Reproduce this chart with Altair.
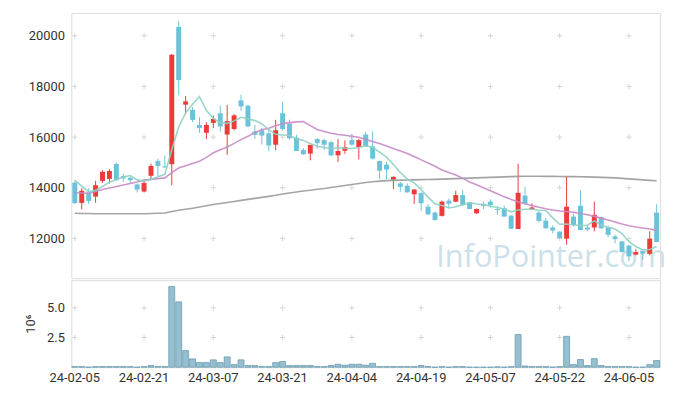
import altair as alt
import pandas as pd

# ---- data ----
dates = ["24-02-05","24-02-06","24-02-07","24-02-08","24-02-13","24-02-14","24-02-15","24-02-16","24-02-19","24-02-20",
         "24-02-21","24-02-22","24-02-23","24-02-26","24-02-27","24-02-28","24-02-29","24-03-04","24-03-05","24-03-06",
         "24-03-07","24-03-08","24-03-11","24-03-12","24-03-13","24-03-14","24-03-15","24-03-18","24-03-19","24-03-20",
         "24-03-21","24-03-22","24-03-25","24-03-26","24-03-27","24-03-28","24-03-29","24-04-01","24-04-02","24-04-03",
         "24-04-04","24-04-05","24-04-08","24-04-09","24-04-11","24-04-12","24-04-15","24-04-16","24-04-17","24-04-18",
         "24-04-19","24-04-22","24-04-23","24-04-24","24-04-25","24-04-26","24-04-29","24-04-30","24-05-02","24-05-03",
         "24-05-07","24-05-08","24-05-09","24-05-10","24-05-13","24-05-14","24-05-16","24-05-17","24-05-20","24-05-21",
         "24-05-22","24-05-23","24-05-24","24-05-27","24-05-28","24-05-29","24-05-30","24-05-31","24-06-03","24-06-04",
         "24-06-05","24-06-07","24-06-10","24-06-11","24-06-12"]

opens = [14200,13400,13810,13650,14270,14350,14940,14460,14390,14130,
         13850,14470,15060,14840,14930,20350,17280,17080,16480,16170,
         16560,16940,16100,16320,17450,17240,16220,16270,16150,15700,
         16940,16530,15980,15490,15350,15920,15880,15800,15280,15460,
         15880,15610,16100,15630,15060,14910,14320,14170,14080,13740,
         13800,13250,13020,12890,13490,13450,13710,13420,12990,13360,
         13450,13160,13190,12900,12370,13690,13150,13020,12700,12430,
         12270,11990,12860,13290,12430,12430,12840,12430,12080,11880,
         11720,11360,11490,11390,13020]
highs = [14260,13980,13980,14270,14690,14730,15000,14560,14430,14170,
         14290,14950,15150,15280,19280,20580,17620,17180,16780,16590,
         16850,17240,17270,16910,17670,17270,16480,16360,16320,16680,
         17400,16690,16090,15570,15700,15960,15930,15850,15930,15870,
         16130,15930,16220,16220,15060,15020,14450,14230,14170,13950,
         13800,13350,13060,13490,13580,13880,13910,13440,13180,13450,
         13540,13270,13290,12920,14950,14040,13380,13080,12800,12510,
         12270,14460,12980,13910,12510,13450,12860,12510,12150,11910,
         11750,11570,11490,12280,13350]
lows = [13370,13150,13360,13410,14190,14170,14270,14230,14170,13810,
        13810,14300,14470,14790,14100,17660,16910,16590,16160,15920,
        16360,16220,15300,16260,17040,16400,15930,15710,15450,15480,
        16260,15900,15450,15300,15080,15540,15500,15250,15020,15340,
        15670,15120,15620,15120,14340,14340,13950,13840,13800,13360,
        13100,12920,12690,12860,13190,13440,13280,13150,12970,13160,
        13210,12930,12860,12370,12370,13320,13150,12630,12380,12200,
        11990,11750,12470,12320,12280,12280,12380,12040,11810,11450,
        11100,11330,11160,11330,11850]
closes = [13390,13880,13480,14100,14630,14660,14300,14370,14300,13930,
          14190,14860,14860,14800,19250,18250,17410,16680,16360,16480,
          16720,16420,16630,16860,17210,16420,16090,16060,15670,16270,
          16320,15950,15450,15320,15690,15760,15700,15280,15450,15600,
          15700,15880,15630,15150,14670,14720,14430,14040,13820,13930,
          13390,12950,12730,13450,13370,13710,13320,13160,13160,13280,
          13320,13120,12860,12380,13800,13380,13220,12690,12400,12310,
          12010,13250,12530,12330,12350,12930,12400,12140,11970,11460,
          11290,11460,11400,11990,11860]
volumes = [50000,50000,0,50000,50000,50000,50000,50000,50000,0,
           50000,140000,50000,50000,6800000,5500000,1400000,700000,390000,390000,
           620000,390000,870000,220000,620000,140000,140000,50000,50000,390000,
           480000,140000,140000,140000,140000,50000,50000,140000,250000,170000,
           250000,250000,170000,330000,50000,50000,50000,50000,50000,50000,
           140000,50000,0,50000,0,50000,50000,0,0,0,
           0,30000,0,50000,2750000,100000,50000,50000,50000,0,
           50000,2600000,220000,650000,140000,720000,140000,50000,50000,50000,
           50000,0,0,220000,560000]
ma5 = [14300,14060,13840,13900,14050,14220,14330,14420,14480,14310,
       14260,14340,14430,14530,15500,16400,16950,17300,17600,17050,
       16740,16560,16540,16640,16780,16720,16650,16530,16290,16110,
       16080,16060,15940,15870,15750,15640,15590,15550,15580,15560,
       15550,15590,15660,15600,15410,15210,14920,14600,14340,14190,
       13920,13630,13370,13300,13200,13250,13330,13410,13360,13340,
       13270,13220,13160,13050,13120,13150,13150,13110,13100,12810,
       12560,12570,12530,12510,12520,12690,12520,12440,12370,12190,
       11870,11680,11540,11560,11680]
ma20 = [13800,13790,13780,13850,13930,13990,14050,14110,14170,14230,
        14300,14330,14360,14390,14600,14780,14870,14960,15050,15200,
        15380,15500,15610,15750,15900,16030,16180,16290,16350,16450,
        16530,16570,16600,16615,16450,16300,16220,16150,16100,16070,
        16030,15990,15900,15830,15750,15650,15550,15450,15350,15230,
        15100,14980,14850,14700,14600,14500,14380,14230,14120,14000,
        13880,13760,13640,13540,13450,13370,13300,13230,13170,13120,
        13080,13060,13030,12980,12930,12870,12800,12730,12650,12570,
        12500,12450,12410,12370,12320]
ma60 = [12990,12985,12980,12975,12975,12970,12970,12970,12970,12970,
        12975,12980,12990,13000,13060,13110,13150,13190,13240,13290,
        13340,13380,13420,13460,13500,13540,13580,13620,13660,13700,
        13750,13790,13830,13870,13900,13940,13970,14010,14050,14090,
        14130,14170,14210,14240,14260,14280,14290,14300,14305,14310,
        14320,14325,14330,14340,14350,14360,14370,14380,14390,14400,
        14410,14420,14430,14440,14450,14455,14455,14455,14450,14450,
        14445,14440,14440,14435,14430,14420,14410,14400,14390,14370,
        14350,14330,14310,14290,14275]

label_dates = ["24-02-05","24-02-21","24-03-07","24-03-21","24-04-04","24-04-19","24-05-07","24-05-22","24-06-05"]
price_ticks = [12000, 14000, 16000, 18000, 20000]
vol_ticks = [2500000, 5000000]
watermark = ["InfoPointer.com"]

RED = "#ef3a3a"
BLUE = "#6cc3d9"
FONT = "Roboto"

df = pd.DataFrame({"date": dates, "open": opens, "high": highs, "low": lows, "close": closes,
                   "volume": volumes, "ma5": ma5, "ma20": ma20, "ma60": ma60})

PW, PH, VH = 595, 268, 88

xscale = alt.Scale(type="band", domain=dates, paddingInner=0, paddingOuter=0)
yscale = alt.Scale(domain=[10430, 20900], nice=False, zero=False)
vscale = alt.Scale(domain=[0, 7330000], nice=False)
color_cond = alt.condition("datum.close >= datum.open", alt.value(RED), alt.value(BLUE))

price_axis = alt.Axis(values=price_ticks, format="d", grid=False, ticks=False, domain=False,
                      labelPadding=7, labelFontSize=13, labelColor="#333", labelFont=FONT)
x_axis = alt.Axis(values=label_dates, labelAngle=0, ticks=False, domain=False, grid=False,
                  labelPadding=4, labelFontSize=13, labelColor="#333", labelFont=FONT)
vol_axis = alt.Axis(values=vol_ticks, labelExpr="format(datum.value/1000000, '.1f')",
                    grid=False, ticks=False, domain=False, labelPadding=7,
                    labelFontSize=13, labelColor="#333", labelFont=FONT,
                    titleFont=FONT, titleFontSize=13, titleColor="#333",
                    titleFontWeight="normal", titlePadding=9)

base = alt.Chart(df)
xp = alt.X("date:N", scale=xscale, axis=None)

cross_shape = "M-1,0L1,0M0,-1L0,1"
pc = pd.DataFrame([(d, v) for d in label_dates for v in price_ticks], columns=["date", "v"])
crosses_price = alt.Chart(pc).mark_point(shape=cross_shape, size=28, filled=False,
                                         color="#d6d6d6", strokeWidth=1, opacity=1).encode(
    x=xp, y=alt.Y("v:Q", scale=yscale, title=None, axis=price_axis),
)

wm = alt.Chart(pd.DataFrame({"t": watermark})).mark_text(
    font="Open Sans", fontSize=31, color="#cddfe8", align="right", baseline="alphabetic"
).encode(text="t:N", x=alt.value(601), y=alt.value(257))

wicks = base.mark_rule(strokeWidth=1).encode(
    x=xp, y=alt.Y("low:Q", scale=yscale, title=None, axis=price_axis),
    y2="high:Q", color=color_cond,
)
bodies = base.mark_bar(size=5).encode(
    x=xp, y=alt.Y("open:Q", scale=yscale, title=None, axis=price_axis),
    y2="close:Q", color=color_cond,
)

def ma_line(field, col, w=1.6, op=0.9):
    return base.mark_line(strokeWidth=w, color=col, opacity=op).encode(
        x=xp, y=alt.Y(f"{field}:Q", scale=yscale, title=None, axis=price_axis),
    )

price = alt.layer(
    crosses_price, wm, wicks, bodies,
    ma_line("ma60", "#9a9a9a"), ma_line("ma20", "#c98ac6"), ma_line("ma5", "#8fd0c2"),
).properties(width=PW, height=PH)

xv = alt.X("date:N", scale=xscale, title=None, axis=x_axis)
vc = pd.DataFrame([(d, v) for d in label_dates for v in vol_ticks], columns=["date", "v"])
crosses_vol = alt.Chart(vc).mark_point(shape=cross_shape, size=28, filled=False,
                                       color="#d6d6d6", strokeWidth=1, opacity=1).encode(
    x=xv, y=alt.Y("v:Q", scale=vscale, title="10⁶", axis=vol_axis),
)
vbars = base.mark_bar(size=6, color="#96bfcf", stroke="#6a9cb2", strokeWidth=0.8).encode(
    x=xv, y=alt.Y("volume:Q", scale=vscale, title="10⁶", axis=vol_axis),
)
volume = alt.layer(crosses_vol, vbars).properties(width=PW, height=VH)

chart = alt.vconcat(price, volume, spacing=0).properties(
    padding={"left": 16, "top": 2, "right": 2, "bottom": 4}
).configure_view(stroke="#e3e3e3").configure(background="white")

chart.save("out.html", embed_options={"renderer": "svg", "actions": False})
